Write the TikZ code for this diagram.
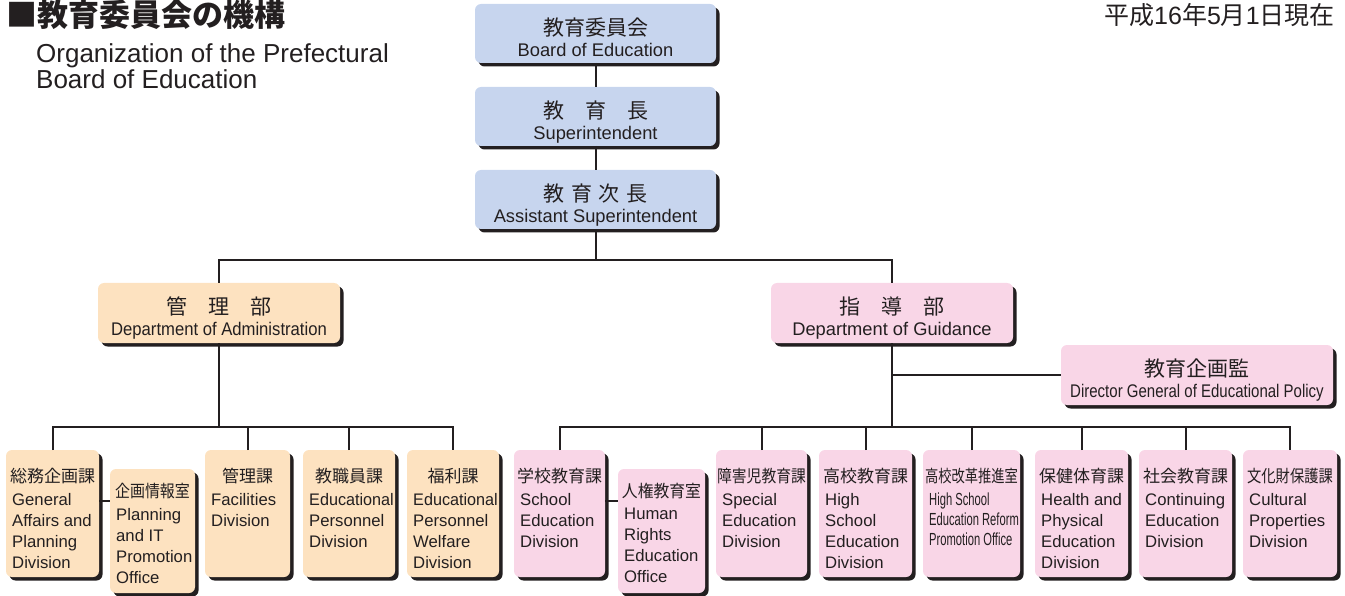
\documentclass[tikz,border=0pt]{standalone}
\usepackage{fontspec}
\usepackage{graphicx}
\setmainfont{Liberation Sans}
\newfontfamily\jp{Noto Sans CJK JP}
\usetikzlibrary{shadows,calc}
\definecolor{ink}{HTML}{231F20}
\definecolor{bluefill}{HTML}{C7D5EE}
\definecolor{orangefill}{HTML}{FDE2C0}
\definecolor{pinkfill}{HTML}{F9D6E7}
\newcommand\mkbox[6]{\node[boxbase,#2,anchor=north west,minimum width=#5pt,minimum height=#6pt] (#1) at (#3,#4) {};}
\newcommand\toptext[3]{%
  \node[topjp,anchor=base] (#1j) at ([yshift=-31.5pt]#1.north) {#2};
  \node[topen,anchor=base] (#1e) at ([yshift=-52.5pt]#1.north) {#3};}
\newcommand\divtext[5]{%
  \node[divjp,anchor=base] (#1j) at ([yshift=-#4pt]#1.north) {#2};
  \node[diven,anchor=north west] (#1e) at ([xshift=6pt,yshift=-#5pt]#1.north west) {#3};}
\begin{document}
\begin{tikzpicture}[x=1pt,y=-1pt,
  boxbase/.style={rectangle,rounded corners=6pt,inner sep=0pt,outer sep=0pt,
    drop shadow={shadow xshift=3.5pt,shadow yshift=-3.5pt,fill=ink,opacity=1}},
  bluebox/.style={fill=bluefill},
  orangebox/.style={fill=orangefill},
  pinkbox/.style={fill=pinkfill},
  conn/.style={draw=ink,line width=2pt},
  topjp/.style={inner sep=0pt,text=ink,font=\jp\fontsize{21}{21}\selectfont},
  topen/.style={inner sep=0pt,text=ink,font=\fontsize{18.3}{21}\selectfont},
  divjp/.style={inner sep=0pt,text=ink,font=\jp\fontsize{17}{20}\selectfont},
  diven/.style={inner sep=0pt,text=ink,align=left,font=\fontsize{16.7}{21}\selectfont},
  ttl/.style={inner sep=0pt,text=ink},
]
\useasboundingbox (0,0) rectangle (1345,596);

% title
\node[ttl,anchor=base west,font=\jp\bfseries\fontsize{31}{31}\selectfont] (title) at (6,27) {■教育委員会の機構};
\node[ttl,anchor=base west,font=\fontsize{26}{26}\selectfont] (sub1) at (36,63) {Organization of the Prefectural};
\node[ttl,anchor=base west,font=\fontsize{26}{26}\selectfont] (sub2) at (36,89) {Board of Education};
\node[ttl,anchor=base east,font=\fontsize{25}{25}\selectfont] (date) at (1335,25) {{\jp 平成}16{\jp 年}5{\jp 月}1{\jp 日現在}};

% boxes
\mkbox{top1}{bluebox}{475}{4}{241}{59}
\mkbox{top2}{bluebox}{475}{87}{241}{59}
\mkbox{top3}{bluebox}{475}{170}{241}{59}
\mkbox{dept1}{orangebox}{98}{283}{242}{60}
\mkbox{dept2}{pinkbox}{771}{283}{242}{60}
\mkbox{pol}{pinkbox}{1061}{345}{272}{60}
\mkbox{A1}{orangebox}{6}{450}{93}{127}
\mkbox{A2}{orangebox}{110}{469}{85}{124}
\mkbox{A3}{orangebox}{205}{450}{85}{127}
\mkbox{A4}{orangebox}{303}{450}{92}{127}
\mkbox{A5}{orangebox}{407}{450}{92}{127}
\mkbox{B1}{pinkbox}{514}{450}{91}{127}
\mkbox{B2}{pinkbox}{618}{469}{87}{124}
\mkbox{B3}{pinkbox}{716}{450}{91}{127}
\mkbox{B4}{pinkbox}{819}{450}{93}{127}
\mkbox{B5}{pinkbox}{923}{450}{97}{127}
\mkbox{B6}{pinkbox}{1035}{450}{93}{127}
\mkbox{B7}{pinkbox}{1139}{450}{93}{127}
\mkbox{B8}{pinkbox}{1243}{450}{94}{127}

% connectors
\coordinate (bus1) at (0,260);
\coordinate (bus2) at (0,427);
\coordinate (side) at (0,501);
\draw[conn] (top1.south) -- (top2.north);
\draw[conn] (top2.south) -- (top3.north);
\draw[conn] (top3.south) -- (top3.south |- bus1);
\draw[conn] (dept1.north) -- (dept1.north |- bus1) -- (dept2.north |- bus1) -- (dept2.north);
\draw[conn] (dept1.south) -- (dept1.south |- bus2);
\draw[conn] (A1.north) -- (A1.north |- bus2) -- (A5.north |- bus2) -- (A5.north);
\draw[conn] (A3.north) -- (A3.north |- bus2);
\draw[conn] (A4.north) -- (A4.north |- bus2);
\draw[conn] (A1.east |- side) -- (A2.west |- side);
\draw[conn] (dept2.south) -- (dept2.south |- bus2);
\draw[conn] (dept2.south |- pol.west) -- (pol.west);
\draw[conn] (B1.north) -- (B1.north |- bus2) -- (B8.north |- bus2) -- (B8.north);
\foreach \b in {B3,B4,B5,B6,B7} {\draw[conn] (\b.north) -- (\b.north |- bus2);}
\draw[conn] (B1.east |- side) -- (B2.west |- side);

% texts
\toptext{top1}{教育委員会}{Board of Education}
\toptext{top2}{教　育　長}{Superintendent}
\toptext{top3}{教\hspace{0.33em}育\hspace{0.33em}次\hspace{0.33em}長}{Assistant Superintendent}
\toptext{dept1}{管　理　部}{\scalebox{0.91}[1]{Department of Administration}}
\toptext{dept2}{指　導　部}{Department of Guidance}
\toptext{pol}{教育企画監}{\scalebox{0.82}[1]{Director General of Educational Policy}}

\divtext{A1}{総務企画課}{General\\Affairs and\\Planning\\Division}{32}{43}
\divtext{A2}{\scalebox{0.88}[1]{企画情報室}}{Planning\\and IT\\Promotion\\Office}{28}{39}
\divtext{A3}{管理課}{Facilities\\Division}{32}{43}
\divtext{A4}{教職員課}{\scalebox{0.97}[1]{Educational}\\Personnel\\Division}{32}{43}
\divtext{A5}{福利課}{\scalebox{0.97}[1]{Educational}\\Personnel\\Welfare\\Division}{32}{43}
\divtext{B1}{学校教育課}{School\\Education\\Division}{32}{43}
\divtext{B2}{\scalebox{0.93}[1]{人権教育室}}{Human\\Rights\\Education\\Office}{28}{39}
\divtext{B3}{\scalebox{0.87}[1]{障害児教育課}}{Special\\Education\\Division}{32}{43}
\divtext{B4}{高校教育課}{High\\School\\Education\\Division}{32}{43}
\divtext{B5}{\scalebox{0.78}[1]{高校改革推進室}}{\scalebox{0.64}[1]{\fontsize{17.5}{20}\selectfont High School}\\[-1pt]\scalebox{0.64}[1]{\fontsize{17.5}{20}\selectfont Education Reform}\\[-1pt]\scalebox{0.64}[1]{\fontsize{17.5}{20}\selectfont Promotion Office}}{32}{43}
\divtext{B6}{保健体育課}{Health and\\Physical\\Education\\Division}{32}{43}
\divtext{B7}{社会教育課}{Continuing\\Education\\Division}{32}{43}
\divtext{B8}{\scalebox{0.84}[1]{文化財保護課}}{Cultural\\Properties\\Division}{32}{43}
\end{tikzpicture}
\end{document}
